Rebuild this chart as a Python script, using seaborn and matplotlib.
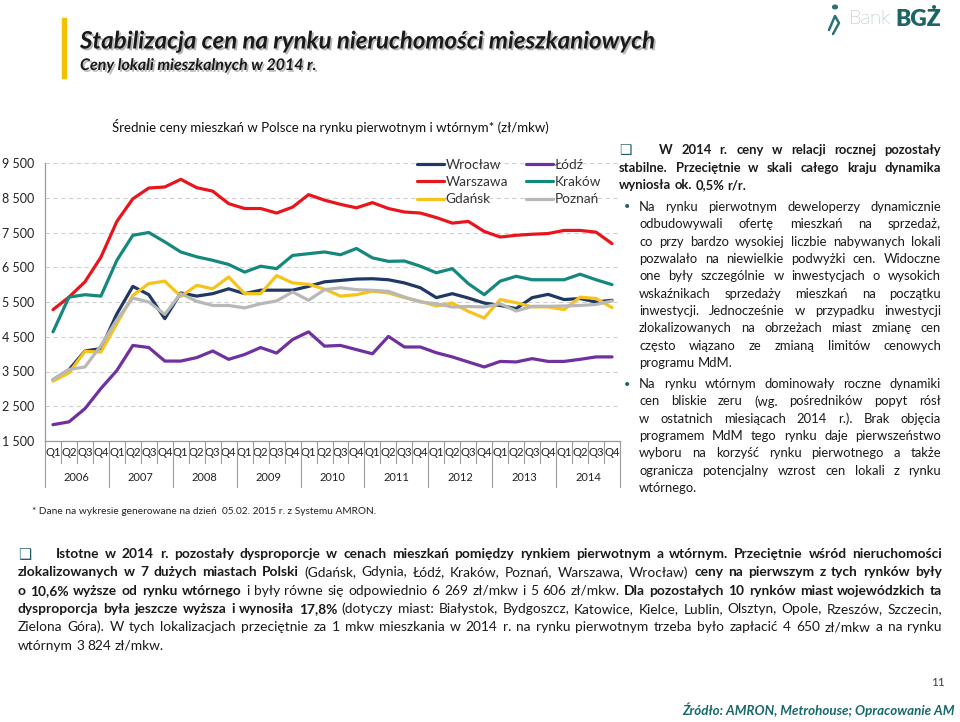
import matplotlib
matplotlib.use("Agg")
import matplotlib.pyplot as plt
import matplotlib.patheffects as pe
import matplotlib.transforms as mtransforms
from matplotlib.lines import Line2D
from matplotlib.patches import Rectangle
from matplotlib.ticker import FuncFormatter
import numpy as np
import pandas as pd
import seaborn as sns

# Data (zl per m2, quarterly 2006-2014)
years = [str(y) for y in range(2006, 2015)]
quarters = ["Q1", "Q2", "Q3", "Q4"]
cities = ["Wrocław", "Warszawa", "Gdańsk", "Łódź", "Kraków", "Poznań"]

wroclaw = [3260, 3550, 4090, 4160, 5160, 5950, 5710, 5020, 5760,
           5670, 5740, 5880, 5740, 5840, 5840, 5840, 5950, 6080,
           6120, 6160, 6170, 6140, 6050, 5910, 5625, 5740, 5615,
           5470, 5400, 5310, 5625, 5720, 5570, 5600, 5500, 5550]
warszawa = [5280, 5640, 6080, 6790, 7820, 8470, 8780, 8810, 9030,
            8790, 8690, 8330, 8190, 8190, 8060, 8230, 8590, 8430,
            8310, 8210, 8360, 8190, 8090, 8060, 7930, 7770, 7820,
            7530, 7370, 7420, 7450, 7470, 7560, 7560, 7510, 7180]
gdansk = [3220, 3460, 4080, 4060, 4880, 5690, 6030, 6100, 5660,
          5980, 5880, 6220, 5740, 5740, 6260, 6050, 6010, 5870,
          5670, 5710, 5810, 5760, 5625, 5520, 5385, 5470, 5230,
          5040, 5570, 5480, 5360, 5360, 5280, 5640, 5600, 5340]
lodz = [1970, 2050, 2430, 3010, 3530, 4250, 4190, 3800, 3800,
        3900, 4090, 3850, 3990, 4190, 4030, 4420, 4640, 4230,
        4250, 4130, 4010, 4510, 4205, 4205, 4040, 3920, 3775,
        3630, 3790, 3775, 3870, 3790, 3790, 3850, 3920, 3920]
krakow = [4640, 5640, 5710, 5670, 6700, 7420, 7500, 7230, 6940,
          6800, 6700, 6580, 6360, 6530, 6460, 6840, 6890, 6940,
          6860, 7040, 6770, 6670, 6680, 6530, 6340, 6460, 6030,
          5710, 6100, 6240, 6140, 6140, 6140, 6300, 6140, 6000]
poznan = [3270, 3560, 3630, 4250, 4990, 5615, 5500, 5145, 5740,
          5520, 5400, 5400, 5330, 5450, 5530, 5790, 5550, 5855,
          5910, 5855, 5836, 5807, 5644, 5500, 5450, 5356, 5370,
          5356, 5450, 5240, 5375, 5375, 5385, 5400, 5430, 5530]

colors = {"Wrocław": "#1F3864", "Warszawa": "#E8161C", "Gdańsk": "#F5C31C",
          "Łódź": "#7030A0", "Kraków": "#15887E", "Poznań": "#B8B8B8"}

df = pd.DataFrame({"Wrocław": wroclaw, "Warszawa": warszawa, "Gdańsk": gdansk,
                   "Łódź": lodz, "Kraków": krakow, "Poznań": poznan})
df["t"] = range(len(df))
long_df = df.melt(id_vars="t", var_name="miasto", value_name="cena")

sns.set_style("white")
plt.rcParams["font.family"] = ["Lato", "DejaVu Sans"]

W, H = 960, 722
fig = plt.figure(figsize=(W / 100, H / 100), dpi=100)
renderer = fig.canvas.get_renderer()


def fx(x):
    return x / W


def fy(y):
    return 1 - y / H


# ---- header
fig.patches.append(Rectangle((fx(62), fy(78)), 4 / W, 60 / H, transform=fig.transFigure,
                             color="#F2C200", zorder=3))
shadow = [pe.withSimplePatchShadow(offset=(1.3, -1.3), shadow_rgbFace="#7f7f7f", alpha=0.55)]
fig.text(fx(80), fy(41), "Stabilizacja cen na rynku nieruchomości mieszkaniowych",
         fontsize=17.3, weight="bold", style="italic", color="#1a1a1a", va="center",
         path_effects=shadow)
fig.text(fx(80), fy(66), "Ceny lokali mieszkalnych w 2014 r.", fontsize=11.5,
         weight="bold", style="italic", color="#1a1a1a", va="center", path_effects=shadow)

# logo
fig.text(fx(891), fy(19), "Bank", fontsize=14.5, weight="light", color="#4A7B7D",
         ha="right", va="center")
fig.text(fx(895), fy(19), "BGŻ", fontsize=16.5, weight="heavy", color="#1D6467", va="center")
fig.patches.append(plt.Circle((fx(835), fy(7)), 2.4 / W, transform=fig.transFigure,
                              color="#2B7275"))
fig.lines.append(Line2D([fx(829), fx(835), fx(839), fx(833)],
                        [fy(30), fy(16), fy(23), fy(34)], transform=fig.transFigure,
                        color="#2B7275", lw=1.8))

# ---- chart
fig.text(fx(112), fy(127), "Średnie ceny mieszkań w Polsce na rynku pierwotnym i wtórnym* (zł/mkw)",
         fontsize=9.5, color="#111111", va="center")

ax = fig.add_axes([fx(45), fy(441), 575 / W, 278 / H])
sns.lineplot(data=long_df, x="t", y="cena", hue="miasto", hue_order=cities,
             palette=colors, lw=2.3, legend=False, ax=ax)
ax.set_xlim(-0.5, 35.5)
ax.set_ylim(1500, 9500)
ax.set_yticks(range(1500, 9501, 1000))
ax.yaxis.set_major_formatter(FuncFormatter(lambda v, p: f"{int(v):,}".replace(",", " ")))
ax.yaxis.grid(True, ls=(0, (4, 3)), color="#CFCFCF", lw=0.8)
ax.set_axisbelow(True)
ax.set_xlabel("")
ax.set_ylabel("")
for s in ["top", "right"]:
    ax.spines[s].set_visible(False)
for s in ["left", "bottom"]:
    ax.spines[s].set_color("#9A9A9A")
    ax.spines[s].set_linewidth(0.9)
ax.tick_params(axis="y", length=0, pad=8, labelsize=9.0, labelcolor="#222222")
ax.set_xticks(range(36))
ax.set_xticklabels(quarters * len(years))
ax.tick_params(axis="x", length=0, pad=4.2, labelsize=8.2, labelcolor="#222222")

trans = mtransforms.blended_transform_factory(ax.transData, ax.transAxes)
q_depth = 22 / 278
y_depth = 46 / 278
for b in np.arange(-0.5, 36, 1.0):
    depth = y_depth if (b + 0.5) % 4 == 0 else q_depth
    ax.plot([b, b], [0, -depth], transform=trans, clip_on=False, color="#9A9A9A", lw=0.8)
for j, yr in enumerate(years):
    ax.text(4 * j + 1.5, -36 / 278, yr, transform=trans, ha="center", va="center",
            fontsize=8.0, color="#222222")

handles = [Line2D([], [], color=colors[c], lw=2.3) for c in cities]
leg = ax.legend(handles, cities, ncol=2, loc="upper left",
                bbox_to_anchor=(fx(417), fy(159)), bbox_transform=fig.transFigure,
                frameon=False, fontsize=9.8, handlelength=2.0, handletextpad=0.1,
                columnspacing=1.3, labelspacing=0.38, borderpad=0, borderaxespad=0)
for t in leg.get_texts():
    t.set_color("#333333")

fig.text(fx(32), fy(512), "* Dane na wykresie generowane na dzień  05.02. 2015 r. z Systemu AMRON.",
         fontsize=7.25, color="#222222", va="center")


# ---- justified text helpers
def measure(s, **kw):
    t = fig.text(0, 0, s, **kw)
    w = t.get_window_extent(renderer).width
    t.remove()
    return w


def put_line(runs, x0, x1, yc, size, justify=True, color="#1a1a1a"):
    words = []
    for txt, bold in runs:
        for w in txt.split():
            words.append((w, bold))
    kws = [dict(fontsize=size, weight="bold" if b else "normal") for _, b in words]
    widths = [measure(w, **k) for (w, _), k in zip(words, kws)]
    space = measure("a a", fontsize=size) - measure("aa", fontsize=size)
    if justify and len(words) > 1:
        gap = (x1 - x0 - sum(widths)) / (len(words) - 1)
    else:
        gap = space
    x = x0
    for (w, _), k, wd in zip(words, kws, widths):
        fig.text(fx(x), fy(yc), w, va="center", color=color, **k)
        x += wd + gap


def checkbox(x, yc, size):
    fig.text(fx(x), fy(yc), "❑", fontsize=size, color="#1F5F66", va="center",
             family="DejaVu Sans")


# ---- right column
rs = 9.4
checkbox(619, 150, 10)
p1 = [("W 2014 r. ceny w relacji rocznej pozostały", 659, 150),
      ("stabilne. Przeciętnie w skali całego kraju dynamika", 619, 168),
      ("wyniosła ok. 0,5% r/r.", 619, 185)]
for i, (txt, x0, yc) in enumerate(p1):
    put_line([(txt, True)], x0, 941, yc, rs, justify=i < len(p1) - 1)

b1 = ["Na rynku pierwotnym deweloperzy dynamicznie",
      "odbudowywali ofertę mieszkań na sprzedaż,",
      "co przy bardzo wysokiej liczbie nabywanych lokali",
      "pozwalało na niewielkie podwyżki cen. Widoczne",
      "one były szczególnie w inwestycjach o wysokich",
      "wskaźnikach sprzedaży mieszkań na początku",
      "inwestycji. Jednocześnie w przypadku inwestycji",
      "zlokalizowanych na obrzeżach miast zmianę cen",
      "często wiązano ze zmianą limitów cenowych",
      "programu MdM."]
b2 = ["Na rynku wtórnym dominowały roczne dynamiki",
      "cen bliskie zeru (wg. pośredników popyt rósł",
      "w ostatnich miesiącach 2014 r.). Brak objęcia",
      "programem MdM tego rynku daje pierwszeństwo",
      "wyboru na korzyść rynku pierwotnego a także",
      "ogranicza potencjalny wzrost cen lokali z rynku",
      "wtórnego."]
for lines, y0 in [(b1, 207), (b2, 384)]:
    fig.text(fx(624), fy(y0), "•", fontsize=8, color="#1F5F66", va="center")
    for i, txt in enumerate(lines):
        put_line([(txt, False)], 639, 941, y0 + i * 17.35, rs, justify=i < len(lines) - 1)

# ---- bottom paragraph
bs = 9.9
checkbox(18, 554, 10.5)
bottom = [
    ([("Istotne w 2014 r. pozostały dysproporcje w cenach mieszkań pomiędzy rynkiem pierwotnym "
       "a wtórnym. Przeciętnie wśród nieruchomości", True)], 56),
    ([("zlokalizowanych w 7 dużych miastach Polski", True),
      ("(Gdańsk, Gdynia, Łódź, Kraków, Poznań, Warszawa, Wrocław)", False),
      ("ceny na pierwszym z tych rynków były", True)], 18),
    ([("o 10,6% wyższe od rynku wtórnego", True),
      ("i były równe się odpowiednio 6 269 zł/mkw i 5 606 zł/mkw.", False),
      ("Dla pozostałych 10 rynków miast wojewódzkich ta", True)], 18),
    ([("dysproporcja była jeszcze wyższa i wynosiła 17,8%", True),
      ("(dotyczy miast: Białystok, Bydgoszcz, Katowice, Kielce, Lublin, Olsztyn, Opole, "
       "Rzeszów, Szczecin,", False)], 18),
    ([("Zielona Góra). W tych lokalizacjach przeciętnie za 1 mkw mieszkania w 2014 r. na "
       "rynku pierwotnym trzeba było zapłacić 4 650 zł/mkw a na rynku", False)], 18),
    ([("wtórnym 3 824 zł/mkw.", False)], 18),
]
for i, (runs, x0) in enumerate(bottom):
    put_line(runs, x0, 942, 554 + i * 18.3, bs, justify=i < len(bottom) - 1)

# ---- footer
fig.text(fx(945), fy(683), "11", fontsize=8.5, color="#404040", ha="right", va="center")
fig.text(fx(955), fy(710), "Źródło: AMRON, Metrohouse; Opracowanie AM", fontsize=9.6,
         weight="bold", style="italic", color="#17686C", ha="right", va="center")

fig.savefig("out.png", dpi=100, facecolor="white")
